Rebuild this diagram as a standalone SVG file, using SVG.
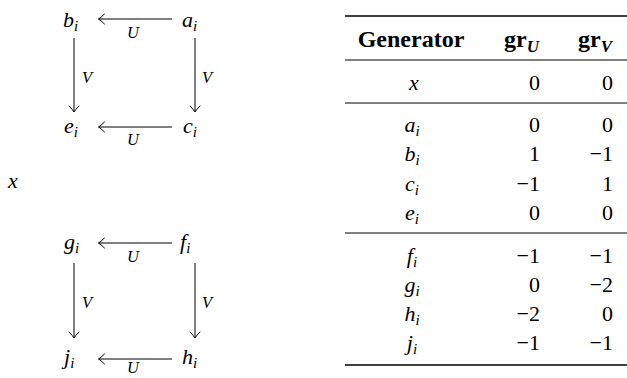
<svg xmlns="http://www.w3.org/2000/svg" width="627" height="378" viewBox="0 0 627 378" font-family="Liberation Serif, Times New Roman, serif">
<defs>
<marker id="ah" markerWidth="14" markerHeight="14" refX="0" refY="0" viewBox="-9 -7 11 14" orient="auto" markerUnits="userSpaceOnUse">
<path d="M-6,-5 Q-2,-1 0,0 Q-2,1 -6,5" fill="none" stroke="#000" stroke-width="1" stroke-linecap="round"/>
</marker>
</defs>
<style>
text{font-family:'Liberation Serif',serif;fill:#000}
.m{font-style:italic;font-size:22px}
.s{font-size:15px}
.l{font-style:italic;font-size:16.5px}
.h{font-weight:bold;font-size:24px}
.hs{font-size:17px;font-style:italic}
.n{font-size:22px}
.e{text-anchor:end}
.c{text-anchor:middle}
.ar{stroke:#000;stroke-width:1;fill:none;marker-end:url(#ah)}
.r1{stroke:#000;stroke-width:1.6}
.r2{stroke:#000;stroke-width:1}
</style>
<rect width="627" height="378" fill="#fff"/>

<g id="connectors">
<line class="ar" x1="172" y1="19" x2="98.5" y2="19"/>
<line class="ar" x1="172" y1="127" x2="98.5" y2="127"/>
<line class="ar" x1="74" y1="38" x2="74" y2="112"/>
<line class="ar" x1="195" y1="38" x2="195" y2="112"/>
<line class="ar" x1="172" y1="243" x2="98.5" y2="243"/>
<line class="ar" x1="172" y1="359" x2="98.5" y2="359"/>
<line class="ar" x1="74" y1="263" x2="74" y2="338"/>
<line class="ar" x1="195" y1="263" x2="195" y2="338"/>
<text class="l" x="127" y="38">U</text>
<text class="l" x="127" y="145">U</text>
<text class="l" x="82" y="83">V</text>
<text class="l" x="202" y="83">V</text>
<text class="l" x="127" y="262">U</text>
<text class="l" x="127" y="373">U</text>
<text class="l" x="82" y="308">V</text>
<text class="l" x="202" y="308">V</text>
</g>

<g id="node-b"><text class="m" x="63" y="27">b<tspan class="s" dy="4">i</tspan></text></g>
<g id="node-a"><text class="m" x="182" y="27">a<tspan class="s" dy="4">i</tspan></text></g>
<g id="node-e"><text class="m" x="64" y="133">e<tspan class="s" dy="4">i</tspan></text></g>
<g id="node-c"><text class="m" x="183" y="133">c<tspan class="s" dy="4">i</tspan></text></g>
<g id="node-x"><text class="m" x="8" y="188">x</text></g>
<g id="node-g"><text class="m" x="64" y="249">g<tspan class="s" dy="4">i</tspan></text></g>
<g id="node-f"><text class="m" x="180" y="249">f<tspan class="s" dy="4">i</tspan></text></g>
<g id="node-j"><text class="m" x="64" y="364">j<tspan class="s" dy="4">i</tspan></text></g>
<g id="node-h"><text class="m" x="182" y="364">h<tspan class="s" dy="4">i</tspan></text></g>

<g id="table">
<line class="r1" x1="345" y1="16" x2="627" y2="16"/>
<line class="r2" x1="345" y1="60" x2="627" y2="60"/>
<line class="r2" x1="345" y1="103" x2="627" y2="103"/>
<line class="r2" x1="345" y1="233" x2="627" y2="233"/>
<line class="r1" x1="345" y1="365" x2="627" y2="365"/>
<text class="h c" x="411" y="47">Generator</text>
<text class="h e" x="539" y="47">gr<tspan class="hs" dy="5">U</tspan></text>
<text class="h e" x="612" y="47">gr<tspan class="hs" dy="5">V</tspan></text>

<text class="m c" x="414" y="90">x</text>
<text class="n e" x="540" y="90">0</text><text class="n e" x="613" y="90">0</text>

<text class="m c" x="412" y="132">a<tspan class="s" dy="4">i</tspan></text>
<text class="n e" x="540" y="132">0</text><text class="n e" x="613" y="132">0</text>
<text class="m c" x="412" y="161">b<tspan class="s" dy="4">i</tspan></text>
<text class="n e" x="540" y="161">1</text><text class="n e" x="613" y="161">−1</text>
<text class="m c" x="412" y="191">c<tspan class="s" dy="4">i</tspan></text>
<text class="n e" x="540" y="191">−1</text><text class="n e" x="613" y="191">1</text>
<text class="m c" x="412" y="220">e<tspan class="s" dy="4">i</tspan></text>
<text class="n e" x="540" y="220">0</text><text class="n e" x="613" y="220">0</text>

<text class="m c" x="412" y="263">f<tspan class="s" dy="4">i</tspan></text>
<text class="n e" x="540" y="263">−1</text><text class="n e" x="613" y="263">−1</text>
<text class="m c" x="412" y="292">g<tspan class="s" dy="4">i</tspan></text>
<text class="n e" x="540" y="292">0</text><text class="n e" x="613" y="292">−2</text>
<text class="m c" x="412" y="321">h<tspan class="s" dy="4">i</tspan></text>
<text class="n e" x="540" y="321">−2</text><text class="n e" x="613" y="321">0</text>
<text class="m c" x="412" y="350">j<tspan class="s" dy="4">i</tspan></text>
<text class="n e" x="540" y="350">−1</text><text class="n e" x="613" y="350">−1</text>
</g>
</svg>
